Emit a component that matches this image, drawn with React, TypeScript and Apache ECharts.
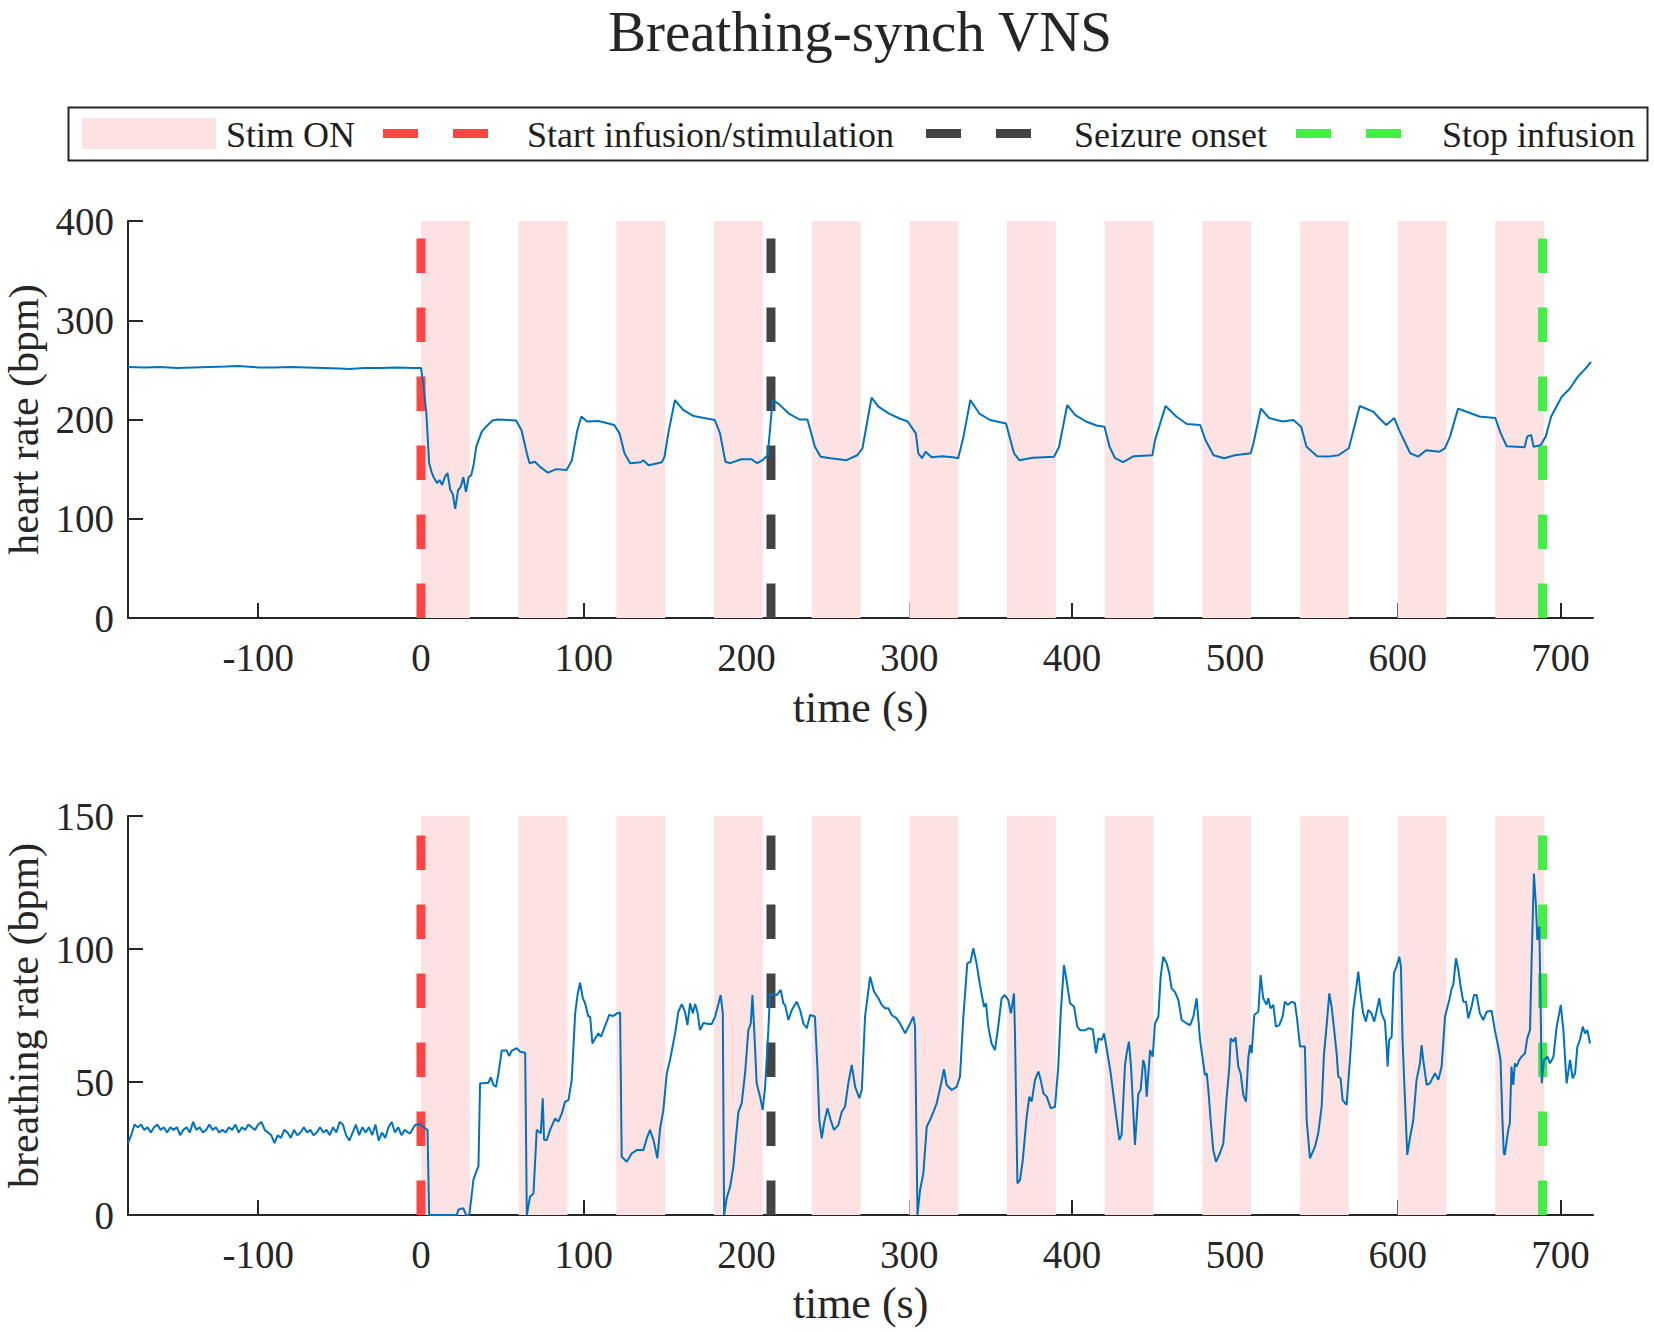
import React, { useEffect, useRef } from "react";
import * as echarts from "echarts";

// ---------------- data ----------------
const xTickValues = [-100, 0, 100, 200, 300, 400, 500, 600, 700];

const stimOnIntervals: [number, number][] = [
  [0, 30], [60, 90], [120, 150], [180, 210], [240, 270], [300, 330],
  [360, 390], [420, 450], [480, 510], [540, 570], [600, 630], [660, 690],
];

const startInfusionTime = 0;
const seizureOnsetTime = 215;
const stopInfusionTime = 689;

const heartRate: [number, number][] = [
  [-180, 253], [-170, 252.5], [-160, 253], [-150, 252], [-140, 252.5], [-130, 253], [-120, 253.5],
  [-112, 254], [-100, 252.5], [-90, 252.5], [-80, 253], [-70, 252.5], [-60, 252], [-50, 251.5],
  [-44, 251], [-35, 252], [-25, 252], [-15, 252.5], [-5, 252], [0, 252],
  [1.6, 233], [3.3, 206], [5, 156], [6.5, 147], [8, 141], [9.8, 136], [11.4, 139], [13, 134],
  [14.6, 142], [16.3, 146], [18, 129], [19.5, 125], [21, 110], [22.8, 129], [24.4, 132], [26, 142],
  [27.6, 127], [29.3, 142], [30.9, 144], [32.5, 156], [34, 173], [37.4, 188], [40.7, 194], [44, 199],
  [47, 200], [53.7, 199.5], [58.5, 199], [61.8, 189], [65, 166], [66.7, 156], [70, 157.5], [73, 152.5],
  [78, 146.4], [83, 150], [89.4, 149], [92.7, 159], [96, 189], [98.5, 203], [102, 198], [109, 198.5],
  [118.7, 194.5], [122, 186], [125, 166], [128.5, 156], [135, 157], [136.6, 159], [139.8, 154],
  [148, 157], [149.6, 162.5], [151.9, 186], [156, 219.6], [161, 209.6], [167.5, 203.5], [180.5, 199.5],
  [183.7, 186], [187, 157.5], [190, 156], [196.7, 160], [203, 160], [206.5, 156], [209.8, 159],
  [213, 164], [216, 219.6], [219.5, 216], [226, 206], [232.5, 200], [237.4, 200], [242, 172.6],
  [245.5, 162.5], [251.6, 161], [261.4, 159], [268, 164], [271.2, 171], [276.8, 222], [281, 213],
  [287.6, 206], [294, 201], [299, 198], [304, 186], [305.5, 166], [307.8, 161], [310, 167.6],
  [313.7, 162], [320.2, 163], [326.8, 162], [330, 161], [333.3, 183], [337.5, 219.6], [343, 206],
  [349.6, 199.5], [359.4, 196], [364.3, 166], [367.6, 159], [375.8, 161.5], [388.9, 162.5],
  [392, 172.6], [397, 214.6], [402, 204.5], [408.5, 198], [415, 194], [419.9, 192.8], [423, 172.6],
  [426.4, 161], [431.3, 157], [437.8, 163], [449.3, 164], [450.9, 179], [457.4, 213.6], [464, 203],
  [470.5, 195.5], [478.7, 194.5], [482, 179], [486.9, 164], [493.4, 161], [500, 164], [509.7, 166],
  [511.4, 176], [516, 211], [521, 201.5], [529.3, 198], [535.9, 199.5], [540.7, 192.8], [544, 172.6],
  [550.6, 163], [557, 162.6], [563.6, 164], [570, 171], [575, 203], [576.7, 213.6], [584.9, 208],
  [589.8, 199.5], [593, 194.5], [597.9, 201.5], [601, 189], [607.7, 166], [612.6, 162.6],
  [617.5, 169], [625.7, 167.6], [629, 171], [632.2, 183], [637.1, 211], [642, 208], [650.2, 203],
  [660, 201.5], [663.3, 186], [667, 173], [673, 172.6], [678, 172], [679.6, 183], [682, 184.4],
  [683.5, 172.6], [687.8, 174], [691, 183], [694.3, 203], [700.8, 223], [705.7, 231], [710.6, 243],
  [715.5, 251.5], [718.8, 258],
];

const breathingRate: [number, number][] = [
  [-180, 27], [-178, 30], [-176, 34], [-174, 33], [-172, 34], [-170, 32], [-168, 33], [-166, 31],
  [-164, 33], [-162, 34], [-160, 32], [-158, 33], [-156, 31], [-154, 33], [-152, 32], [-150, 33],
  [-148, 30], [-146, 32], [-144, 33], [-142, 31], [-140, 35], [-138, 32], [-136, 33], [-134, 31],
  [-132, 32], [-130, 34], [-128, 32], [-126, 33], [-124, 31], [-122, 32], [-120, 31], [-118, 33],
  [-116, 32], [-114, 34], [-112, 31], [-110, 33], [-108, 32], [-106, 34], [-104, 33], [-102, 32],
  [-100, 34], [-98, 35], [-96, 32], [-94, 31], [-92, 30], [-90, 27], [-88, 30], [-86, 29],
  [-84, 32], [-82, 31], [-80, 29], [-78, 32], [-76, 30], [-74, 31], [-72, 33], [-70, 31],
  [-68, 32], [-66, 30], [-64, 31], [-62, 33], [-60, 31], [-58, 32], [-56, 30], [-54, 33],
  [-52, 31], [-50, 35], [-48, 34], [-46, 30], [-44, 28], [-42, 31], [-40, 34], [-38, 30],
  [-36, 33], [-34, 31], [-32, 33], [-30, 30], [-28, 34], [-26, 28], [-24, 31], [-22, 29],
  [-20, 33], [-18, 35], [-16, 31], [-14, 33], [-12, 30], [-10, 32], [-8, 31],
  [-6.7, 30.7], [-3.6, 33.8], [-0.5, 34.2], [2.5, 32.6], [4, 32], [5, 0], [22, 0], [23, 2.1],
  [26, 2.5], [27.7, 0], [29.7, 0], [32.2, 13.2], [34.3, 16.9], [35.3, 18.2], [36.3, 49.5],
  [38.4, 49.5], [41.4, 49.7], [42.9, 51.8], [44.5, 48.9], [46.1, 48.2], [47.6, 53.3], [49.6, 61.8],
  [52.7, 61.8], [54.1, 59.8], [55.8, 61.8], [58.8, 62.7], [60.9, 61.4], [64, 61], [65, 0], [67, 6.9],
  [69.1, 8.1], [71.1, 32], [73.6, 30.7], [74.8, 43.9], [75.6, 28.2], [77.3, 28.2], [79.3, 32],
  [82.4, 36.3], [84.4, 35.1], [86.5, 38.2], [88.5, 42.6], [90.6, 43.2], [92.6, 50.8], [94.7, 75.8],
  [96.3, 83.3], [97.7, 87.3], [99.4, 81.5], [100.8, 79.6], [102.8, 74.6], [103.9, 74.6], [105.3, 64.5],
  [107, 66.4], [109, 68.3], [110.5, 67], [112.1, 69.5], [114.1, 72.7], [115.6, 75.2], [118.2, 74.8],
  [120.3, 75.8], [122.3, 76.1], [123.3, 21.9], [126.4, 20], [129.5, 23.2], [132.5, 24.4],
  [136.6, 24.4], [139, 29.4], [140.7, 32], [142.8, 28.2], [145.2, 21.3], [146.9, 32.6], [148.9, 39.5],
  [151, 53.3], [153, 58.3], [156.1, 68.3], [158.1, 76.4], [160.2, 79.3], [162.2, 76.4], [163.7, 71.4],
  [165.3, 79.6], [167, 75.8], [168.4, 79.3], [169.8, 76.4], [171.4, 69.5], [173.5, 72.2],
  [176.6, 71.8], [178.6, 71.8], [180.7, 74.6], [182.7, 79.3], [184.1, 82.7], [185.4, 75.8],
  [186.2, 0], [187.8, 6.3], [189.9, 10.7], [191.9, 18.2], [193.5, 29.4], [195, 38.8], [197, 42],
  [199.1, 53.3], [201.1, 69.5], [202.6, 72], [203.6, 82.7], [204.8, 68.3], [206.2, 49.5],
  [208.3, 44.5], [209.9, 39.5], [211.4, 48.2], [213.4, 69.5], [214.4, 83.3], [216.5, 82.7],
  [218.5, 82.7], [221, 84.6], [222.6, 79.6], [223.7, 78.9], [225.7, 73.3], [227.8, 77.1],
  [230.8, 80.2], [232.9, 77.1], [234.9, 72], [237, 70.2], [239, 75.2], [242, 74.6], [243.5, 55.8],
  [244.7, 35.7], [246.2, 28.8], [247.6, 34.5], [249.7, 40.1], [251.7, 35.7], [253.7, 32],
  [256.4, 33.8], [258.5, 38.8], [260.5, 40.7], [262.5, 49.5], [264.6, 56.4], [266.7, 48.2],
  [269.3, 43.9], [270.8, 47], [272.8, 74.6], [275.9, 89.6], [278.3, 84], [281, 81.5], [283, 79],
  [285.1, 77.7], [287.1, 77.7], [289.2, 75.2], [292.2, 73.9], [294.3, 72], [297.4, 68.3],
  [300, 71.4], [302.5, 74.6], [303.5, 70.8], [305, 0], [306.6, 9.4], [308.6, 15.7], [310.7, 33.2],
  [312.7, 35.7], [314.8, 38.8], [316.8, 42], [318.9, 47.6], [321.3, 54.8], [322.9, 48.9], [326, 47],
  [329.1, 48.2], [331.1, 52], [333.2, 74.6], [335.6, 94.6], [337.6, 95.2], [339.3, 100.3],
  [341.3, 94.6], [343.4, 86.5], [345.9, 78.3], [347.1, 79.6], [348.5, 70.8], [350.5, 64.5],
  [352.6, 62], [354.6, 70.8], [356.7, 81.5], [358.7, 82.7], [360.8, 80.8], [362.4, 75.8],
  [364.3, 83.3], [364.9, 68.3], [366.4, 11.9], [368, 13.2], [369.7, 20.7], [372.1, 37],
  [373.7, 44.5], [375.2, 42.6], [377.2, 50.8], [379.3, 53.9], [380.7, 50.8], [382.4, 45.7],
  [384.4, 44.5], [386.9, 40.1], [389.5, 40.7], [391.5, 55.8], [393, 75.8], [395, 94], [396.7, 87.7],
  [398.7, 79.6], [401.2, 78.3], [403.2, 70.8], [404.9, 69.5], [408, 69.5], [410, 70.2],
  [412.7, 69.8], [414.7, 60.8], [416.1, 66.4], [418.2, 65.8], [419.6, 68.3], [421.2, 62.7],
  [423.7, 53.3], [426.3, 40.7], [429, 28.2], [430.4, 30.1], [432.5, 56.4], [433.5, 60.8],
  [434.9, 65.2], [436.2, 55.8], [438.6, 26.3], [440.7, 45.7], [442.1, 47], [443.7, 58.3],
  [444.8, 55.8], [445.8, 44.5], [447.9, 62], [449.5, 59.5], [450.9, 72], [453, 74.6], [454.4, 89.6],
  [456, 97.1], [458.1, 94.6], [459.7, 90.9], [461.1, 85.2], [463.2, 83.8], [465.3, 80.8],
  [467.3, 73.3], [470.4, 72], [472.5, 71.4], [474.5, 74.6], [476.5, 81.5], [478.6, 65.8],
  [480.6, 57], [481.6, 52.6], [482.7, 53.3], [483.7, 47], [485.1, 35.7], [486.7, 24.4], [488.4, 20],
  [490.8, 23.2], [492.9, 26.9], [494.9, 43.9], [496.6, 55.8], [497.4, 66.4], [499, 65.2],
  [500.4, 66.8], [502.1, 55.8], [503.5, 53.3], [505.2, 45.1], [506.8, 42.6], [508.2, 58.9],
  [509.3, 63.9], [510.3, 60.8], [511.9, 75.2], [514.4, 76.4], [515.8, 90.2], [517.4, 81.5],
  [519.5, 79], [520.5, 81.5], [521.9, 77.7], [523.6, 79], [525.2, 70.8], [527.3, 71.4],
  [529.3, 74.6], [530.7, 80.2], [532.4, 79], [534.9, 80.2], [536.9, 79.6], [538.3, 73.3], [540, 63.3],
  [543, 63.3], [544.1, 35.7], [546.1, 21.3], [549.2, 25.7], [551.2, 30.7], [553.3, 40.7],
  [554.7, 60.2], [556.3, 70.8], [558, 83.3], [559.4, 78.3], [560.9, 70.2], [562.5, 60.8], [563.5, 52],
  [564.9, 51.4], [566.2, 43.2], [568.6, 41.4], [570.7, 58.3], [572.7, 77.1], [574.8, 86.5],
  [575.8, 91.5], [577.2, 83.3], [578.8, 75.8], [580.5, 72.7], [581.9, 77.1], [583.9, 75.8],
  [585.6, 72.7], [587, 76.4], [588.7, 81.5], [590.1, 75.8], [592.2, 72.7], [593.2, 63.3],
  [593.8, 55.8], [594.8, 65.8], [596.3, 67], [597.7, 90.9], [599.3, 93.4], [601, 97.1], [602, 93.4],
  [603, 65.8], [604.5, 43.2], [605.9, 22.6], [607.5, 28.8], [609.6, 35.7], [611.6, 50.8], [613.7, 57],
  [614.7, 63.9], [615.7, 58.3], [617.8, 48.9], [619.8, 49.5], [622.9, 53.3], [625, 50.8], [627, 55.8],
  [629.1, 74.6], [631.7, 80.8], [633.2, 85.2], [634.2, 86.5], [635.8, 96.5], [637.3, 92.1],
  [638.7, 85.8], [640.3, 80.2], [642, 80.2], [643.4, 73.9], [645.4, 78.3], [646.9, 82.7],
  [648.5, 82.7], [650.5, 75.8], [652.6, 73.3], [654.6, 76.4], [657.7, 76.8], [659.7, 69.5],
  [661.8, 63.3], [663.2, 58.3], [664.4, 35], [665.2, 23.2], [665.8, 22.6], [667.9, 32], [668.9, 34.5],
  [669.9, 55.8], [671, 48.9], [672, 57], [673, 55.8], [674.7, 58.3], [676.1, 59.5], [678.2, 60.8],
  [679.6, 66.4], [681.3, 69.5], [682.3, 95.9], [683.7, 128.4], [685, 115.9], [685.8, 103.4],
  [687, 108.4], [687.9, 75.8], [688.5, 49.5], [689.9, 58.3], [692, 59.5], [693.6, 57], [695.7, 59.5],
  [697.7, 70.8], [700.2, 79], [701.8, 69.5], [703.8, 49.5], [705.9, 58.3], [707.5, 51.4], [709, 53.3],
  [710.4, 63.3], [712, 65.8], [713.7, 70.8], [715.1, 68.3], [716.5, 69.5], [718.2, 64.5],
];

// ---------------- styles ----------------
const FONT = "'Liberation Serif', 'Times New Roman', serif";
const AXIS_COLOR = "#262626";
const PINK = "#fde2e4";
const BLUE = "#0072bd";
const RED = "#ff4444";
const DARK = "#444444";
const GREEN = "#44ee44";
const DASH = [34.5, 34.5];

function App() {
  const ref = useRef<HTMLDivElement>(null);

  useEffect(() => {
    if (!ref.current) return;
    const chart = echarts.init(ref.current, undefined, { renderer: "svg" });

    const makeX = (gridIndex: number, nameGap: number) => ({
      type: "value",
      gridIndex,
      min: -180,
      max: 720,
      name: "time (s)",
      nameLocation: "middle",
      nameGap,
      nameTextStyle: { fontFamily: FONT, fontSize: 44, color: AXIS_COLOR },
      axisLine: { show: true, onZero: false, lineStyle: { color: AXIS_COLOR, width: 2 } },
      axisTick: {
        show: true,
        inside: true,
        length: 15,
        customValues: xTickValues,
        lineStyle: { color: AXIS_COLOR, width: 2 },
      },
      axisLabel: {
        customValues: xTickValues,
        fontFamily: FONT,
        fontSize: 39,
        color: AXIS_COLOR,
        margin: 20,
      },
      splitLine: { show: false },
    });

    const makeY = (gridIndex: number, max: number, interval: number, name: string) => ({
      type: "value",
      gridIndex,
      min: 0,
      max,
      interval,
      name,
      nameLocation: "middle",
      nameGap: 82,
      nameTextStyle: { fontFamily: FONT, fontSize: 42, color: AXIS_COLOR },
      axisLine: { show: true, onZero: false, lineStyle: { color: AXIS_COLOR, width: 2 } },
      axisTick: { show: true, inside: true, length: 15, lineStyle: { color: AXIS_COLOR, width: 2 } },
      axisLabel: { fontFamily: FONT, fontSize: 39, color: AXIS_COLOR, margin: 14 },
      splitLine: { show: false },
    });

    const bands = stimOnIntervals.map(([a, b]) => [{ xAxis: a }, { xAxis: b }]);

    const eventLine = (
      gridIndex: number,
      t: number,
      top: number,
      color: string,
      name: string
    ) => ({
      type: "line",
      name,
      xAxisIndex: gridIndex,
      yAxisIndex: gridIndex,
      data: [
        [t, 0],
        [t, top],
      ],
      symbol: "none",
      silent: true,
      z: 3,
      lineStyle: { color, width: 9, type: DASH, cap: "butt" },
    });

    const dataSeries = (gridIndex: number, data: [number, number][], name: string) => ({
      type: "line",
      name,
      xAxisIndex: gridIndex,
      yAxisIndex: gridIndex,
      data,
      symbol: "none",
      z: 5,
      lineStyle: { color: BLUE, width: 2 },
      markArea: {
        silent: true,
        z: 1,
        itemStyle: { color: PINK, opacity: 1 },
        data: bands,
      },
    });

    const legendText = (x: number, text: string) => ({
      type: "text",
      x,
      y: 134.5,
      style: {
        text,
        fontFamily: FONT,
        fontSize: 36,
        fill: "#1e1e1e",
        textAlign: "left",
        textVerticalAlign: "middle",
        align: "left",
        verticalAlign: "middle",
      },
    });

    const legendDash = (x: number, color: string) => ({
      type: "line",
      shape: { x1: x, y1: 133.5, x2: x + 105, y2: 133.5 },
      style: { stroke: color, lineWidth: 9, lineDash: [35, 35] },
    });

    const option: any = {
      animation: false,
      backgroundColor: "#ffffff",
      title: {
        text: "Breathing-synch VNS",
        left: 860,
        textAlign: "center",
        top: 3,
        padding: 0,
        textStyle: { fontFamily: FONT, fontSize: 57, fontWeight: "normal", color: AXIS_COLOR },
      },
      grid: [
        { left: 128, top: 221, width: 1465, height: 397, outerBoundsMode: "none", containLabel: false },
        { left: 128, top: 816, width: 1465, height: 399, outerBoundsMode: "none", containLabel: false },
      ],
      xAxis: [makeX(0, 67), makeX(1, 66)],
      yAxis: [
        makeY(0, 400, 100, "heart rate (bpm)"),
        makeY(1, 150, 50, "breathing rate (bpm)"),
      ],
      series: [
        dataSeries(0, heartRate, "heart rate"),
        dataSeries(1, breathingRate, "breathing rate"),
        eventLine(0, startInfusionTime, 400, RED, "Start infusion/stimulation"),
        eventLine(0, seizureOnsetTime, 400, DARK, "Seizure onset"),
        eventLine(0, stopInfusionTime, 400, GREEN, "Stop infusion"),
        eventLine(1, startInfusionTime, 150, RED, "Start infusion/stimulation"),
        eventLine(1, seizureOnsetTime, 150, DARK, "Seizure onset"),
        eventLine(1, stopInfusionTime, 150, GREEN, "Stop infusion"),
      ],
      graphic: [
        {
          type: "rect",
          shape: { x: 68.5, y: 107.5, width: 1579, height: 53 },
          style: { fill: "#ffffff", stroke: AXIS_COLOR, lineWidth: 2 },
        },
        {
          type: "rect",
          shape: { x: 82, y: 118, width: 134, height: 31 },
          style: { fill: PINK },
        },
        legendText(226, "Stim ON"),
        legendDash(383, RED),
        legendText(527, "Start infusion/stimulation"),
        legendDash(926, DARK),
        legendText(1074, "Seizure onset"),
        legendDash(1296, GREEN),
        legendText(1442, "Stop infusion"),
      ],
    };

    chart.setOption(option);
    return () => chart.dispose();
  }, []);

  return (
    <div
      ref={ref}
      style={{ position: "absolute", left: 0, top: 0, width: 1654, height: 1332, background: "#fff" }}
    />
  );
}

export default App;
